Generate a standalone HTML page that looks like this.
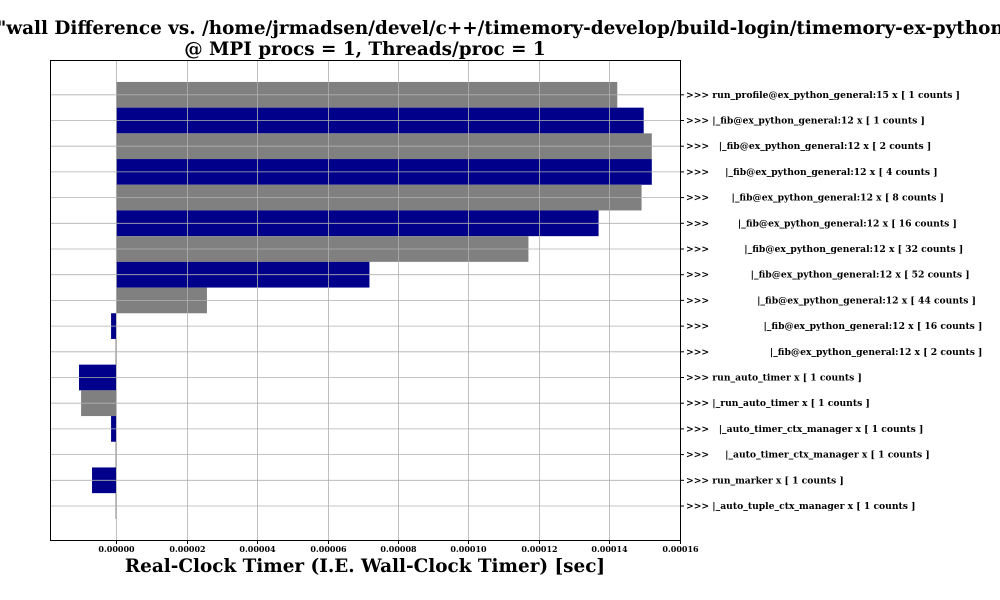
<!DOCTYPE html>
<html><head><meta charset="utf-8"><style>
html,body{margin:0;padding:0;background:#fff;overflow:hidden}
svg{display:block;font-family:"DejaVu Serif","Liberation Serif",serif}
</style></head><body>
<svg id="chart" width="1000" height="600" xmlns="http://www.w3.org/2000/svg">
<text x="497" y="34" text-anchor="middle" font-size="18.4" font-weight="bold">r "wall Difference vs. /home/jrmadsen/devel/c++/timemory-develop/build-login/timemory-ex-python"</text>
<text x="365" y="55" text-anchor="middle" font-size="18.4" font-weight="bold">@ MPI procs = 1, Threads/proc = 1</text>
<g id="bars"></g><g id="grid"></g><g id="axes"></g>
<rect x="50.5" y="60.5" width="630" height="480" fill="none" stroke="#000" stroke-width="1"/>
<text x="365" y="572" text-anchor="middle" font-size="18.4" font-weight="bold">Real-Clock Timer (I.E. Wall-Clock Timer) [sec]</text>
</svg>
<script>
const categories = [
">>> run_profile@ex_python_general:15 x [ 1 counts ]",
">>> |_fib@ex_python_general:12 x [ 1 counts ]",
">>>   |_fib@ex_python_general:12 x [ 2 counts ]",
">>>     |_fib@ex_python_general:12 x [ 4 counts ]",
">>>       |_fib@ex_python_general:12 x [ 8 counts ]",
">>>         |_fib@ex_python_general:12 x [ 16 counts ]",
">>>           |_fib@ex_python_general:12 x [ 32 counts ]",
">>>             |_fib@ex_python_general:12 x [ 52 counts ]",
">>>               |_fib@ex_python_general:12 x [ 44 counts ]",
">>>                 |_fib@ex_python_general:12 x [ 16 counts ]",
">>>                   |_fib@ex_python_general:12 x [ 2 counts ]",
">>> run_auto_timer x [ 1 counts ]",
">>> |_run_auto_timer x [ 1 counts ]",
">>>   |_auto_timer_ctx_manager x [ 1 counts ]",
">>>     |_auto_timer_ctx_manager x [ 1 counts ]",
">>> run_marker x [ 1 counts ]",
">>> |_auto_tuple_ctx_manager x [ 1 counts ]"
];
const values = [0.0001422,0.0001497,0.000152,0.000152,0.0001491,0.0001369,0.000117,0.0000719,0.0000258,-0.0000014,0,-0.0000105,-0.0000099,-0.0000014,0,-0.0000068,0];
const xTicks = [0,0.00002,0.00004,0.00006,0.00008,0.0001,0.00012,0.00014,0.00016];
const xTickLabels = ["0.00000","0.00002","0.00004","0.00006","0.00008","0.00010","0.00012","0.00014","0.00016"];

const NS="http://www.w3.org/2000/svg";
const X0=116, PX=564/0.00016;
const xs=v=>X0+v*PX;
const Y0=94.8, DY=25.7;
const ys=i=>Y0+i*DY;
function mk(tag,attrs,parent){const e=document.createElementNS(NS,tag);for(const k in attrs)e.setAttribute(k,attrs[k]);parent.appendChild(e);return e;}
const grid=document.getElementById('grid'),bars=document.getElementById('bars'),axes=document.getElementById('axes');
xTicks.forEach((t,i)=>{
  const x=Math.round(xs(t))+0.5;
  const g=mk('line',{x1:x,x2:x,y1:60,y2:540,stroke:'#b0b0b0','stroke-width':0.8},grid);
  
  
  const tk=mk('line',{x1:x,x2:x,y1:540,y2:544,stroke:'#000'},axes);
  
  
  const tl=mk('text',{x:x,y:552,'text-anchor':'middle','font-size':8,'font-weight':'bold'},axes);
  tl.textContent=xTickLabels[i];
  
  
});
categories.forEach((c,i)=>{
  const y=ys(i);
  const g=mk('line',{x1:50,x2:680,y1:y,y2:y,stroke:'#b0b0b0','stroke-width':0.8},grid);
  
  
  const v=values[i];
  const x1=xs(Math.min(0,v)), x2=xs(Math.max(0,v));
  const b=mk('rect',{x:x1,y:y-DY/2,width:Math.max(x2-x1,0),height:DY,fill:i%2===0?'#808080':'#00008b'},bars);
  
  
  if(v===0){const z=mk('line',{x1:X0,x2:X0,y1:y-DY/2,y2:y+DY/2,stroke:'#808080','stroke-width':1},bars);
    
    }
  const tk=mk('line',{x1:680,x2:684,y1:y,y2:y,stroke:'#000'},axes);
  
  
  const tl=mk('text',{x:686,y:y+3,'font-size':9.2,'font-weight':'bold','xml:space':'preserve'},axes);
  tl.style.whiteSpace='pre';
  tl.textContent=c;
  
  
});
</script>
</body></html>
